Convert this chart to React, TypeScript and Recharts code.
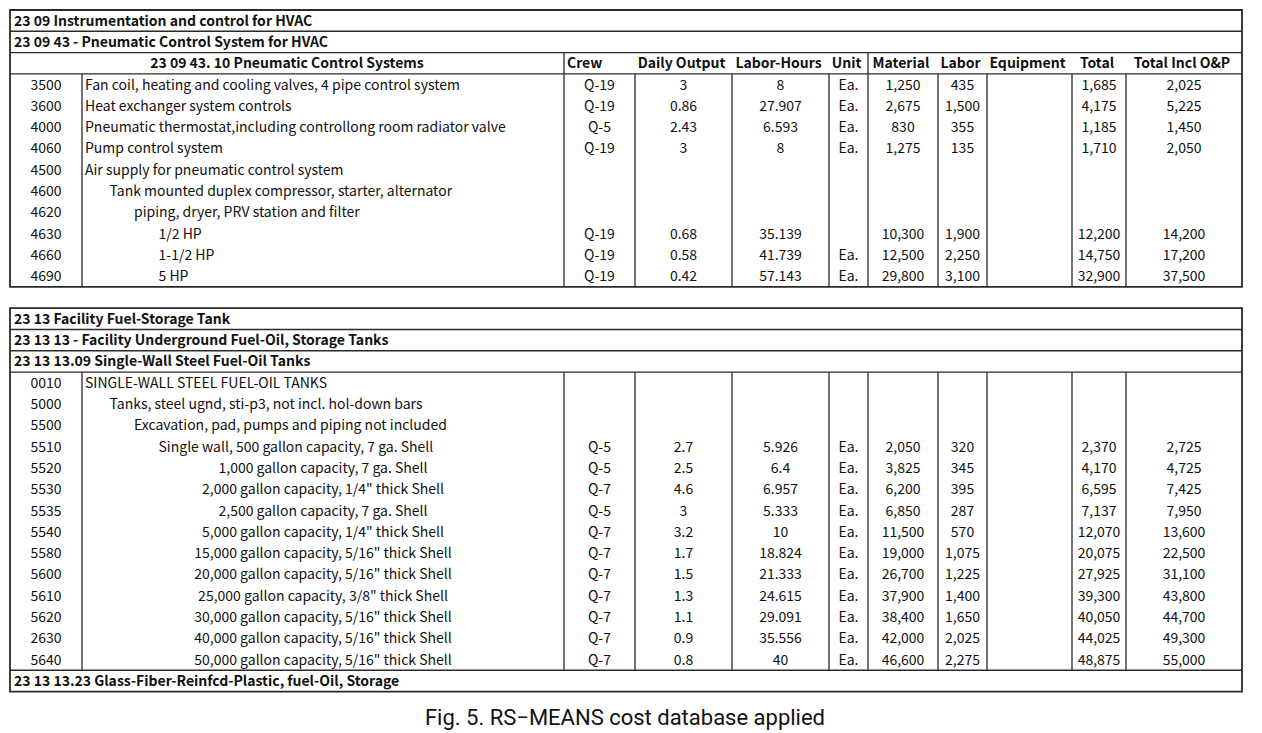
import React from "react";
import {
  ScatterChart,
  Scatter,
  XAxis,
  YAxis,
  ReferenceLine,
  ReferenceArea,
} from "recharts";

// ── Table contents ───────────────────────────────────────────────────────────
const titles1 = [
  "23 09 Instrumentation and control for HVAC",
  "23 09 43 - Pneumatic Control System for HVAC",
];
const subTitle1 = "23 09 43. 10 Pneumatic Control Systems";
const columnNames = [
  "Crew",
  "Daily Output",
  "Labor-Hours",
  "Unit",
  "Material",
  "Labor",
  "Equipment",
  "Total",
  "Total Incl O&P",
];

const codes1 = ["3500", "3600", "4000", "4060", "4500", "4600", "4620", "4630", "4660", "4690"];
const desc1 = [
  "Fan coil, heating and cooling valves, 4 pipe control system",
  "Heat exchanger system controls",
  "Pneumatic thermostat,including controllong room radiator valve",
  "Pump control system",
  "Air supply for pneumatic control system",
  "Tank mounted duplex compressor, starter, alternator",
  "piping, dryer, PRV station and filter",
  "1/2 HP",
  "1-1/2 HP",
  "5 HP",
];
// hierarchy level of each description (4 = centred sub-item)
const level1 = [0, 0, 0, 0, 0, 1, 2, 3, 3, 3];
const crew1 = ["Q-19", "Q-19", "Q-5", "Q-19", "", "", "", "Q-19", "Q-19", "Q-19"];
const daily1 = [3, 0.86, 2.43, 3, null, null, null, 0.68, 0.58, 0.42];
const hours1 = [8, 27.907, 6.593, 8, null, null, null, 35.139, 41.739, 57.143];
const unit1 = ["Ea.", "Ea.", "Ea.", "Ea.", "", "", "", "", "Ea.", "Ea."];
const material1 = [1250, 2675, 830, 1275, null, null, null, 10300, 12500, 29800];
const labor1 = [435, 1500, 355, 135, null, null, null, 1900, 2250, 3100];
const equip1 = [null, null, null, null, null, null, null, null, null, null];
const total1 = [1685, 4175, 1185, 1710, null, null, null, 12200, 14750, 32900];
const totalOP1 = [2025, 5225, 1450, 2050, null, null, null, 14200, 17200, 37500];

const titles2 = [
  "23 13 Facility Fuel-Storage Tank",
  "23 13 13 - Facility Underground Fuel-Oil, Storage Tanks",
  "23 13 13.09 Single-Wall Steel Fuel-Oil Tanks",
];
const footer2 = "23 13 13.23 Glass-Fiber-Reinfcd-Plastic, fuel-Oil, Storage";

const codes2 = ["0010", "5000", "5500", "5510", "5520", "5530", "5535", "5540", "5580", "5600", "5610", "5620", "2630", "5640"];
const desc2 = [
  "SINGLE-WALL STEEL FUEL-OIL TANKS",
  "Tanks, steel ugnd, sti-p3, not incl. hol-down bars",
  "Excavation, pad, pumps and piping not included",
  "Single wall, 500 gallon capacity, 7 ga. Shell",
  "1,000 gallon capacity, 7 ga. Shell",
  "2,000 gallon capacity, 1/4\" thick Shell",
  "2,500 gallon capacity, 7 ga. Shell",
  "5,000 gallon capacity, 1/4\" thick Shell",
  "15,000 gallon capacity, 5/16\" thick Shell",
  "20,000 gallon capacity, 5/16\" thick Shell",
  "25,000 gallon capacity, 3/8\" thick Shell",
  "30,000 gallon capacity, 5/16\" thick Shell",
  "40,000 gallon capacity, 5/16\" thick Shell",
  "50,000 gallon capacity, 5/16\" thick Shell",
];
const level2 = [0, 1, 2, 3, 4, 4, 4, 4, 4, 4, 4, 4, 4, 4];
const crew2 = ["", "", "", "Q-5", "Q-5", "Q-7", "Q-5", "Q-7", "Q-7", "Q-7", "Q-7", "Q-7", "Q-7", "Q-7"];
const daily2 = [null, null, null, 2.7, 2.5, 4.6, 3, 3.2, 1.7, 1.5, 1.3, 1.1, 0.9, 0.8];
const hours2 = [null, null, null, 5.926, 6.4, 6.957, 5.333, 10, 18.824, 21.333, 24.615, 29.091, 35.556, 40];
const unit2 = ["", "", "", "Ea.", "Ea.", "Ea.", "Ea.", "Ea.", "Ea.", "Ea.", "Ea.", "Ea.", "Ea.", "Ea."];
const material2 = [null, null, null, 2050, 3825, 6200, 6850, 11500, 19000, 26700, 37900, 38400, 42000, 46600];
const labor2 = [null, null, null, 320, 345, 395, 287, 570, 1075, 1225, 1400, 1650, 2025, 2275];
const equip2 = [null, null, null, null, null, null, null, null, null, null, null, null, null, null];
const total2 = [null, null, null, 2370, 4170, 6595, 7137, 12070, 20075, 27925, 39300, 40050, 44025, 48875];
const totalOP2 = [null, null, null, 2725, 4725, 7425, 7950, 13600, 22500, 31100, 43800, 44700, 49300, 55000];

const caption = "Fig. 5. RS\u2212MEANS cost database applied";

// ── Layout ───────────────────────────────────────────────────────────────────
const W = 1262;
const H = 733;
const TOP = 10;
const ROW_H = 21.3;
const LEFT = 10;
const RIGHT = 1242;
// column edges: code | desc | crew | daily | hours | unit | material | labor | equip | total | total o&p
const EDGES = [LEFT, 82, 564, 635, 732, 829, 868, 938, 987, 1072, 1126, RIGHT];
const DESC_X = 85;
const INDENT = 24.5;
const CENTRED_X = 323;
const T2 = 14; // first row of second table
const FONT = "'Noto Sans CJK KR', 'Noto Sans', sans-serif";

type Cell = { x: number; y: number; label: string; anchor: string; bold?: boolean; size?: number; font?: string };

const fmt = (v: number | null) => (v == null ? "" : v.toLocaleString("en-US", { maximumFractionDigits: 3 }));
const mid = (i: number) => (EDGES[i] + EDGES[i + 1]) / 2;

function buildRows(
  start: number,
  codes: string[],
  desc: string[],
  level: number[],
  crew: string[],
  numeric: (number | null)[][],
  unit: string[],
  money: (number | null)[][]
): Cell[] {
  const out: Cell[] = [];
  codes.forEach((c, i) => {
    const y = start + i + 0.5;
    out.push({ x: mid(0), y, label: c, anchor: "middle" });
    const lv = level[i];
    if (lv === 4) out.push({ x: CENTRED_X, y, label: desc[i], anchor: "middle" });
    else out.push({ x: DESC_X + lv * INDENT, y, label: desc[i], anchor: "start" });
    out.push({ x: mid(2), y, label: crew[i], anchor: "middle" });
    out.push({ x: mid(3), y, label: fmt(numeric[0][i]), anchor: "middle" });
    out.push({ x: mid(4), y, label: fmt(numeric[1][i]), anchor: "middle" });
    out.push({ x: mid(5), y, label: unit[i], anchor: "middle" });
    money.forEach((col, k) => out.push({ x: mid(6 + k), y, label: fmt(col[i]), anchor: "middle" }));
  });
  return out.filter((c) => c.label !== "");
}

const cells: Cell[] = [
  ...titles1.map((t, i) => ({ x: LEFT + 4, y: i + 0.5, label: t, anchor: "start", bold: true })),
  { x: (LEFT + EDGES[2]) / 2, y: 2.5, label: subTitle1, anchor: "middle", bold: true },
  ...columnNames.map((n, i) =>
    i === 0
      ? { x: EDGES[2] + 3, y: 2.5, label: n, anchor: "start", bold: true }
      : { x: mid(2 + i) - 2, y: 2.5, label: n, anchor: "middle", bold: true }
  ),
  ...buildRows(3, codes1, desc1, level1, crew1, [daily1, hours1], unit1, [material1, labor1, equip1, total1, totalOP1]),
  ...titles2.map((t, i) => ({ x: LEFT + 4, y: T2 + i + 0.5, label: t, anchor: "start", bold: true })),
  ...buildRows(T2 + 3, codes2, desc2, level2, crew2, [daily2, hours2], unit2, [material2, labor2, equip2, total2, totalOP2]),
  { x: LEFT + 4, y: T2 + 17.5, label: footer2, anchor: "start", bold: true },
  { x: 625, y: (717 - TOP) / ROW_H, label: caption, anchor: "middle", size: 22, font: "Roboto, 'Liberation Sans', sans-serif" },
];

type Seg = { x1: number; x2: number; y1: number; y2: number; w: number };
const segs: Seg[] = [];
[1, 2, 3].forEach((r) => segs.push({ x1: LEFT, x2: RIGHT, y1: r, y2: r, w: 1.4 }));
[T2 + 1, T2 + 2, T2 + 3, T2 + 17].forEach((r) => segs.push({ x1: LEFT, x2: RIGHT, y1: r, y2: r, w: 1.4 }));
EDGES.slice(1, -1).forEach((x, i) => {
  const fromHeader = i === 1 || i === 5;
  segs.push({ x1: x, x2: x, y1: fromHeader ? 2 : 3, y2: 13, w: 1.3 });
  segs.push({ x1: x, x2: x, y1: T2 + 3, y2: T2 + 17, w: 1.3 });
});

const renderCell = (p: any) => {
  const c: Cell = p.payload;
  const size = c.size ?? 14;
  return (
    <text
      x={p.cx}
      y={p.cy}
      dy={size * 0.36}
      textAnchor={c.anchor as any}
      fontFamily={c.font ?? FONT}
      fontSize={size}
      fontWeight={c.bold ? 600 : 400}
      fill="#111"
    >
      {c.label}
    </text>
  );
};

export default function App() {
  const rowsDomain = (H - TOP) / ROW_H;
  return (
    <div style={{ position: "absolute", left: 0, top: 0, width: W, height: H, background: "#fff" }}>
      <ScatterChart width={W} height={H} margin={{ top: TOP, right: 0, bottom: 0, left: 0 }}>
        <XAxis type="number" dataKey="x" domain={[0, W]} hide allowDataOverflow />
        <YAxis type="number" dataKey="y" domain={[0, rowsDomain]} reversed hide allowDataOverflow />
        <ReferenceArea x1={LEFT} x2={RIGHT} y1={0} y2={13} fill="none" stroke="#2a2a2a" strokeWidth={1.8} ifOverflow="visible" />
        <ReferenceArea x1={LEFT} x2={RIGHT} y1={T2} y2={T2 + 18} fill="none" stroke="#2a2a2a" strokeWidth={1.8} ifOverflow="visible" />
        {segs.map((s, i) => (
          <ReferenceLine
            key={i}
            segment={[
              { x: s.x1, y: s.y1 },
              { x: s.x2, y: s.y2 },
            ]}
            stroke="#2a2a2a"
            strokeWidth={s.w}
            ifOverflow="visible"
          />
        ))}
        <Scatter data={cells} shape={renderCell} isAnimationActive={false} />
      </ScatterChart>
    </div>
  );
}
